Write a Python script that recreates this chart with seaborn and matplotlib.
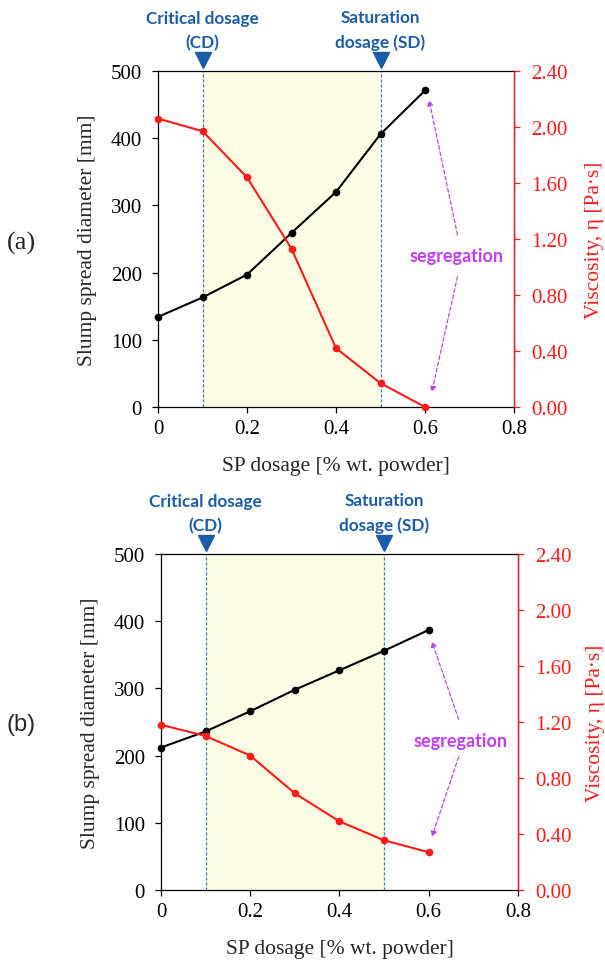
import numpy as np
import pandas as pd
import matplotlib
matplotlib.use("Agg")
import matplotlib.pyplot as plt
import seaborn as sns

sns.set_theme(style="ticks")
plt.rcParams['font.family'] = ['Liberation Serif', 'DejaVu Serif']
plt.rcParams['mathtext.fontset'] = 'stix'

# ---- data ----
sp_dosage = [0.0, 0.1, 0.2, 0.3, 0.4, 0.5, 0.6]
slump_a = [134, 163, 197, 259, 320, 406, 471]
visc_a = [2.06, 1.97, 1.64, 1.13, 0.42, 0.17, 0.00]
slump_b = [212, 236, 266, 298, 327, 356, 387]
visc_b = [1.18, 1.10, 0.96, 0.69, 0.49, 0.355, 0.27]

cd_dose = 0.1
sd_dose = 0.5
x_ticks = [0, 0.2, 0.4, 0.6, 0.8]
x_ticklabels = ["0", "0.2", "0.4", "0.6", "0.8"]
slump_ticks = [0, 100, 200, 300, 400, 500]
visc_ticks = [0.0, 0.4, 0.8, 1.2, 1.6, 2.0, 2.4]

BLUE = '#1a5ca8'
DASH_BLUE = '#3f7cbb'
MAGENTA = '#c43cf5'
RED = '#ff1a1a'
SHADE = '#fcfce4'
ANNOT_FONT = ['Lato', 'DejaVu Sans']


def draw_panel(ax, slump, visc, seg_text_y, seg_up, seg_down, rlabel_x):
    df = pd.DataFrame({'dose': sp_dosage, 'slump': slump, 'visc': visc})

    ax.axvspan(cd_dose, sd_dose, color=SHADE, zorder=0, lw=0)
    for xv in (cd_dose, sd_dose):
        ax.axvline(xv, color=DASH_BLUE, lw=0.9, ls=(0, (2.5, 1.5)), zorder=1)

    sns.lineplot(data=df, x='dose', y='slump', ax=ax, color='black',
                 marker='o', markersize=5.5, markeredgewidth=0, lw=1.5,
                 zorder=3, clip_on=False)
    ax.set_xlim(0, 0.8)
    ax.set_ylim(0, 500)
    ax.set_xticks(x_ticks)
    ax.set_xticklabels(x_ticklabels)
    ax.set_yticks(slump_ticks)
    ax.set_xlabel('SP dosage [% wt. powder]', fontsize=15.5)
    ax.set_ylabel('Slump spread diameter [mm]', fontsize=15.5)
    ax.xaxis.set_label_coords(0.5, -0.146)
    ax.yaxis.set_label_coords(-0.172, 0.5)
    ax.tick_params(axis='both', labelsize=15, direction='out', length=4.5,
                   width=0.9, colors='black')
    ax.tick_params(axis='y', pad=7)
    ax.tick_params(axis='x', pad=4)
    for s in ax.spines.values():
        s.set_color('black')
        s.set_linewidth(0.9)

    ax2 = ax.twinx()
    sns.lineplot(data=df, x='dose', y='visc', ax=ax2, color=RED,
                 marker='o', markersize=5.5, markeredgewidth=0, lw=1.5,
                 zorder=3, clip_on=False)
    ax2.set_ylim(0, 2.4)
    ax2.set_yticks(visc_ticks)
    ax2.set_yticklabels([f"{v:.2f}" for v in visc_ticks])
    ax2.set_ylabel('Viscosity, η [Pa·s]', fontsize=15.5, color=RED)
    ax2.yaxis.set_label_coords(rlabel_x, 0.5)
    ax2.tick_params(axis='y', labelsize=15, direction='out', length=4.5,
                    width=0.9, colors=RED, pad=8)
    ax2.spines['right'].set_color(RED)
    ax2.spines['right'].set_linewidth(0.9)
    for k in ('top', 'left', 'bottom'):
        ax2.spines[k].set_visible(False)

    # critical / saturation markers above the frame
    trans = ax.get_xaxis_transform()
    for xv, label in ((cd_dose, 'Critical dosage\n(CD)'),
                      (sd_dose, 'Saturation\ndosage (SD)')):
        ax.plot([xv], [1.034], marker='v', color=BLUE, markersize=11.5,
                transform=trans, clip_on=False, zorder=5)
        ax.text(xv, 1.062, label, transform=trans, ha='center', va='bottom',
                color=BLUE, fontsize=12.3, fontweight='bold', family=ANNOT_FONT,
                linespacing=1.6)

    # segregation note with dashed arrows
    ax.text(0.671, seg_text_y, 'segregation', ha='center', va='center',
            color=MAGENTA, fontsize=13, fontweight='bold', family=ANNOT_FONT,
            zorder=6)
    arrow = dict(arrowstyle='-|>', ls=(0, (3, 2)), color=MAGENTA, lw=0.9,
                 mutation_scale=8, shrinkA=0, shrinkB=0)
    ax.annotate('', xy=seg_up[1], xytext=seg_up[0], arrowprops=arrow)
    ax.annotate('', xy=seg_down[1], xytext=seg_down[0], arrowprops=arrow)
    return ax2


fig = plt.figure(figsize=(6.05, 9.62), dpi=100)
ax_a = fig.add_axes([0.2612, 0.5759, 0.5884, 0.3493])
ax_b = fig.add_axes([0.2661, 0.0738, 0.5901, 0.3493])

draw_panel(ax_a, slump_a, visc_a, 226,
           ((0.673, 256), (0.609, 457)), ((0.673, 194), (0.615, 22)), 1.2)
draw_panel(ax_b, slump_b, visc_b, 223,
           ((0.667, 254), (0.607, 370)), ((0.667, 198), (0.607, 79)), 1.19)

fig.text(21 / 605, 1 - 243 / 962, '(a)', ha='center', va='center',
         fontsize=19, family=['Liberation Serif'])
fig.text(21 / 605, 1 - 725 / 962, '(b)', ha='center', va='center',
         fontsize=17, family=['Liberation Sans'])

fig.savefig('out.png', dpi=100)
